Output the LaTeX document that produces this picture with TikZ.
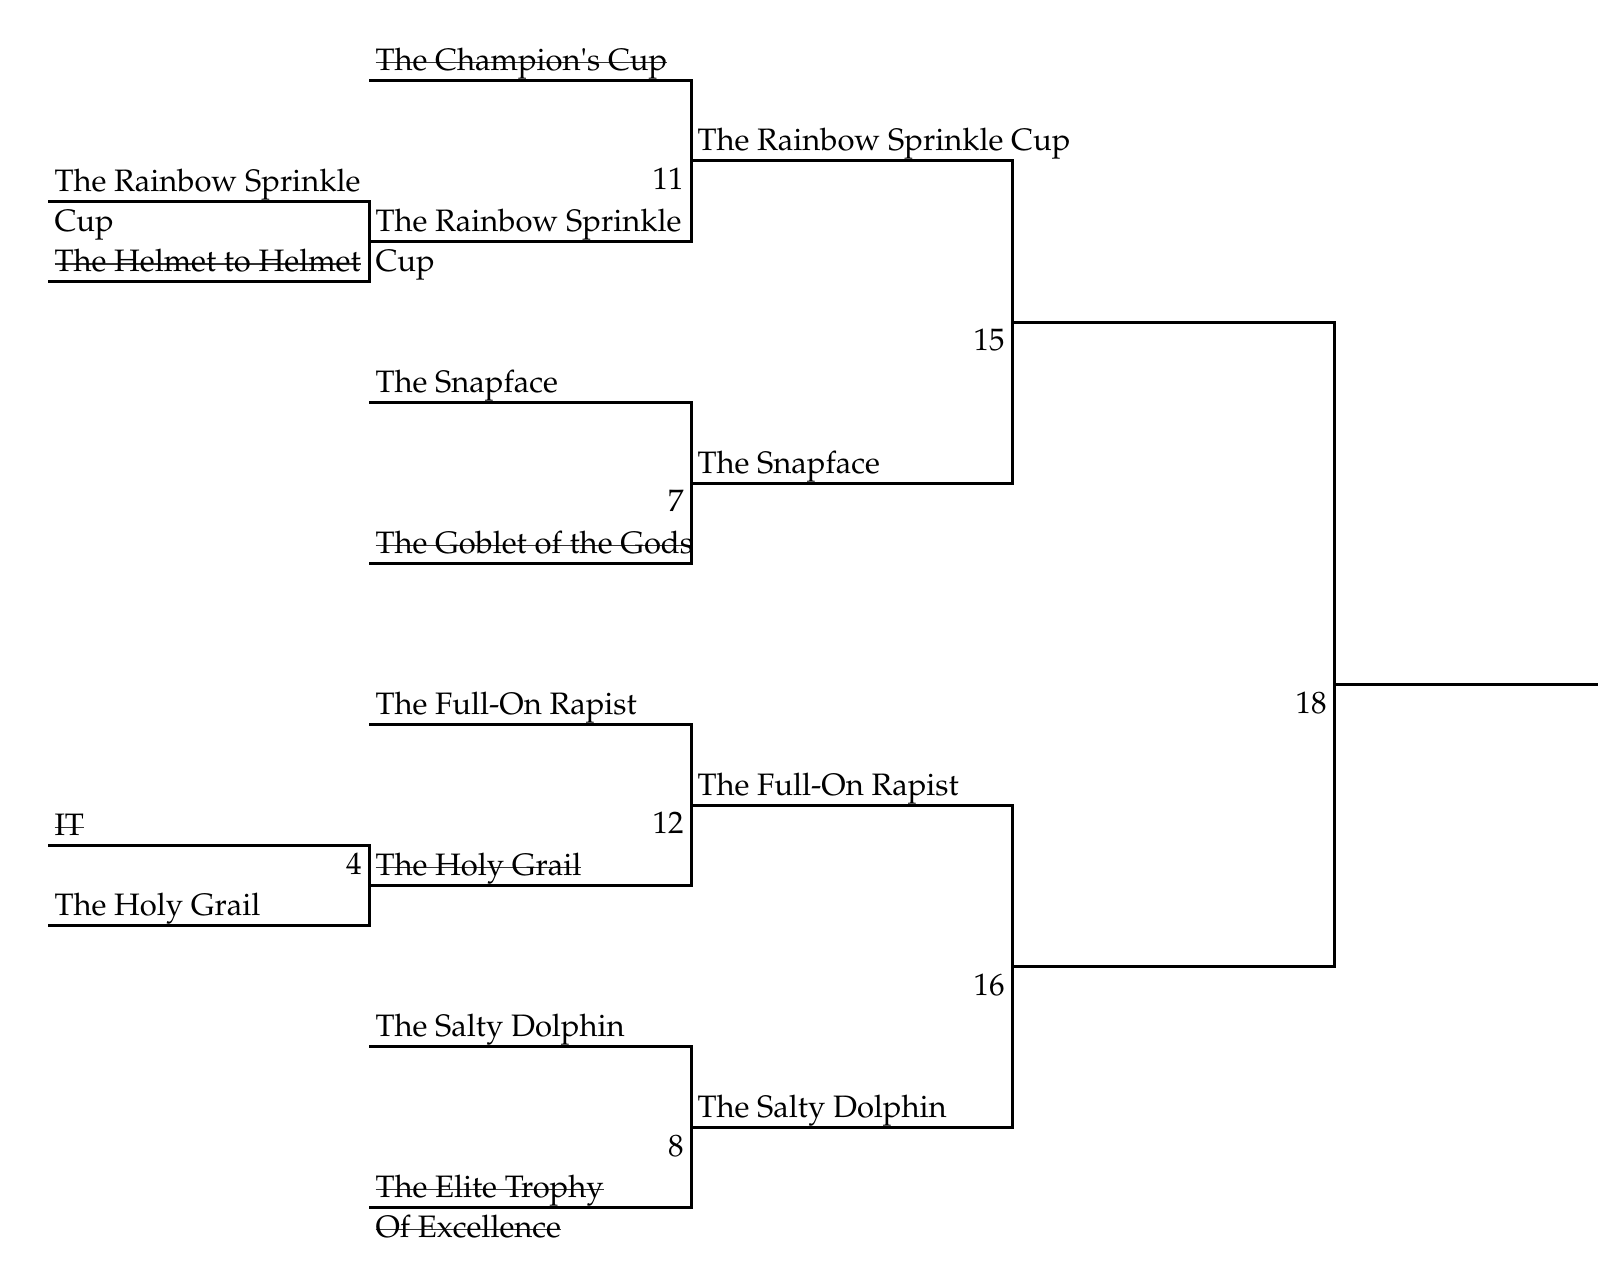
\documentclass[tikz,border=0pt]{standalone}
\usepackage[T1]{fontenc}
\usepackage{mathpazo}

\newcommand{\strk}[1]{{\setbox0\hbox{#1}\rlap{\color{black!80}\rule[0.23em]{\wd0}{0.45pt}}\box0}}

\begin{document}
\begin{tikzpicture}[
    x=0.4pt, y=-32.2pt,
    team/.style={anchor=base west, inner sep=0pt, align=left, xshift=2.4pt, yshift=4pt, font=\fontsize{12.4}{16}\selectfont},
    twoline/.style={team, yshift=-16pt},
    seed/.style={anchor=base east, inner sep=0pt, font=\fontsize{12.4}{16}\selectfont},
    bracket/.style={line width=1.2pt}
]
    \useasboundingbox (0,0) rectangle (1598,15.975);

    % slot lines: name / start x / y / end x
    \foreach \n/\x/\y/\w in {rsa/48/2.5/369, hth/48/3.5/369, itp/48/10.5/369, hga/48/11.5/369,
        chc/369/1/691, rsb/369/3/691, sfa/369/5/691, gog/369/7/691,
        fra/369/9/691, hgb/369/11/691, sda/369/13/691, etp/369/15/691,
        rsc/691/2/1012, sfb/691/6/1012, frb/691/10/1012, sdb/691/14/1012,
        sm1/1012/4/1334, sm2/1012/12/1334, fin/1334/8.5/1598}
    {
        \coordinate (\n) at (\x,\y);
        \coordinate (\n-e) at (\w,\y);
    }

    % team names
    \node[twoline] (rsa-t) at (rsa) {The Rainbow Sprinkle\\Cup};
    \node[team] (hth-t) at (hth) {\strk{The Helmet to Helmet}};
    \node[team] (itp-t) at (itp) {\strk{IT}};
    \node[team] (hga-t) at (hga) {The Holy Grail};
    \node[team] (chc-t) at (chc) {\strk{The Champion\textquotesingle s Cup}};
    \node[twoline] (rsb-t) at (rsb) {The Rainbow Sprinkle\\Cup};
    \node[team] (sfa-t) at (sfa) {The Snapface};
    \node[team] (gog-t) at (gog) {\strk{The Goblet of the Gods}};
    \node[team] (fra-t) at (fra) {The Full-On Rapist};
    \node[team] (hgb-t) at (hgb) {\strk{The Holy Grail}};
    \node[team] (sda-t) at (sda) {The Salty Dolphin};
    \node[twoline] (etp-t) at (etp) {\strk{The Elite Trophy}\\\strk{Of Excellence}};
    \node[team] (rsc-t) at (rsc) {The Rainbow Sprinkle Cup};
    \node[team] (sfb-t) at (sfb) {The Snapface};
    \node[team] (frb-t) at (frb) {The Full-On Rapist};
    \node[team] (sdb-t) at (sdb) {The Salty Dolphin};

    % game numbers
    \node[seed] (g4) at (362,10.86) {4};
    \node[seed] (g11) at (684,2.36) {11};
    \node[seed] (g7) at (684,6.36) {7};
    \node[seed] (g12) at (684,10.36) {12};
    \node[seed] (g8) at (684,14.36) {8};
    \node[seed] (g15) at (1005,4.36) {15};
    \node[seed] (g16) at (1005,12.36) {16};
    \node[seed] (g18) at (1327,8.86) {18};

    % brackets
    \draw[bracket] (rsa) -- (rsa-e) -- (hth-e) -- (hth);
    \draw[bracket] (itp) -- (itp-e) -- (hga-e) -- (hga);
    \draw[bracket] (chc) -- (chc-e) -- (rsb-e) -- (rsb);
    \draw[bracket] (sfa) -- (sfa-e) -- (gog-e) -- (gog);
    \draw[bracket] (fra) -- (fra-e) -- (hgb-e) -- (hgb);
    \draw[bracket] (sda) -- (sda-e) -- (etp-e) -- (etp);
    \draw[bracket] (rsc) -- (rsc-e) -- (sfb-e) -- (sfb);
    \draw[bracket] (frb) -- (frb-e) -- (sdb-e) -- (sdb);
    \draw[bracket] (sm1) -- (sm1-e) -- (sm2-e) -- (sm2);
    \draw[bracket] (fin) -- (fin-e);
\end{tikzpicture}
\end{document}
